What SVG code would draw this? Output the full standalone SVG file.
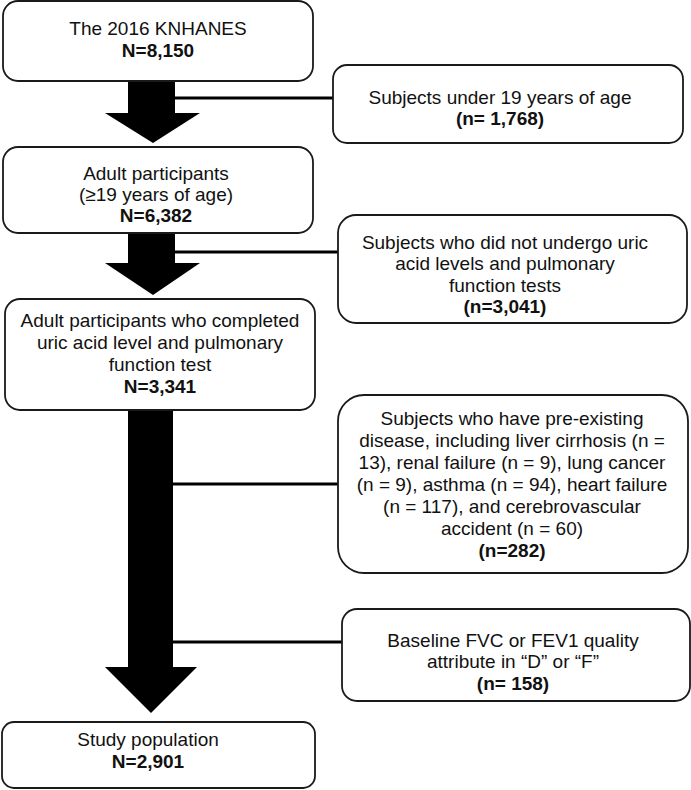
<svg xmlns="http://www.w3.org/2000/svg" width="691" height="790" viewBox="0 0 691 790">
<style>
.box{fill:#fff;stroke:#1a1a1a;stroke-width:1.8}
text{font-family:"Liberation Sans",Arial,sans-serif;font-size:19px;fill:#111;text-anchor:middle}
.b{font-weight:bold}
.arr{fill:#000}
.ln{stroke:#000;stroke-width:3;fill:none}
</style>
<g id="connectors">
<polygon class="arr" points="128,81 175,81 175,113 200,113 153,143 105,113 128,113"/>
<polygon class="arr" points="128,233 175,233 175,263 200,263 153,295 105,263 128,263"/>
<polygon class="arr" points="128,410 173,410 173,667 197,667 151,713 105,667 128,667"/>
<line class="ln" x1="175" y1="98" x2="333" y2="98"/>
<line class="ln" x1="175" y1="252" x2="338" y2="252"/>
<line class="ln" x1="173" y1="484" x2="338" y2="484"/>
<line class="ln" x1="173" y1="642" x2="342" y2="642"/>
</g>
<g id="n1">
<rect class="box" x="3" y="1" width="310" height="80" rx="15"/>
<text x="158" y="35">The 2016 KNHANES</text>
<text class="b" x="158" y="57">N=8,150</text>
</g>
<g id="n2">
<rect class="box" x="333" y="65" width="350" height="78" rx="14"/>
<text x="500" y="104">Subjects under 19 years of age</text>
<text class="b" x="500" y="125">(n= 1,768)</text>
</g>
<g id="n3">
<rect class="box" x="3" y="147" width="310" height="86" rx="15"/>
<text x="156" y="180">Adult participants</text>
<text x="156" y="201">(≥19 years of age)</text>
<text class="b" x="156" y="222">N=6,382</text>
</g>
<g id="n4">
<rect class="box" x="338" y="215" width="349" height="108" rx="18"/>
<text x="505" y="249">Subjects who did not undergo uric</text>
<text x="505" y="270">acid levels and pulmonary</text>
<text x="505" y="292">function tests</text>
<text class="b" x="505" y="313">(n=3,041)</text>
</g>
<g id="n5">
<rect class="box" x="5" y="299" width="310" height="111" rx="15"/>
<text x="160" y="327">Adult participants who completed</text>
<text x="160" y="349">uric acid level and pulmonary</text>
<text x="160" y="371">function test</text>
<text class="b" x="160" y="393">N=3,341</text>
</g>
<g id="n6">
<rect class="box" x="338" y="395" width="350" height="178" rx="26"/>
<text x="512" y="425">Subjects who have pre-existing</text>
<text x="512" y="447">disease, including liver cirrhosis (n =</text>
<text x="512" y="469">13), renal failure (n = 9), lung cancer</text>
<text x="512" y="491">(n = 9), asthma (n = 94), heart failure</text>
<text x="512" y="513">(n = 117), and cerebrovascular</text>
<text x="512" y="535">accident (n = 60)</text>
<text class="b" x="512" y="557">(n=282)</text>
</g>
<g id="n7">
<rect class="box" x="342" y="609" width="348" height="92" rx="15"/>
<text x="513" y="647">Baseline FVC or FEV1 quality</text>
<text x="513" y="668">attribute in “D” or “F”</text>
<text class="b" x="513" y="690">(n= 158)</text>
</g>
<g id="n8">
<rect class="box" x="2" y="722" width="313" height="66" rx="12"/>
<text x="148" y="746">Study population</text>
<text class="b" x="148" y="768">N=2,901</text>
</g>
</svg>
